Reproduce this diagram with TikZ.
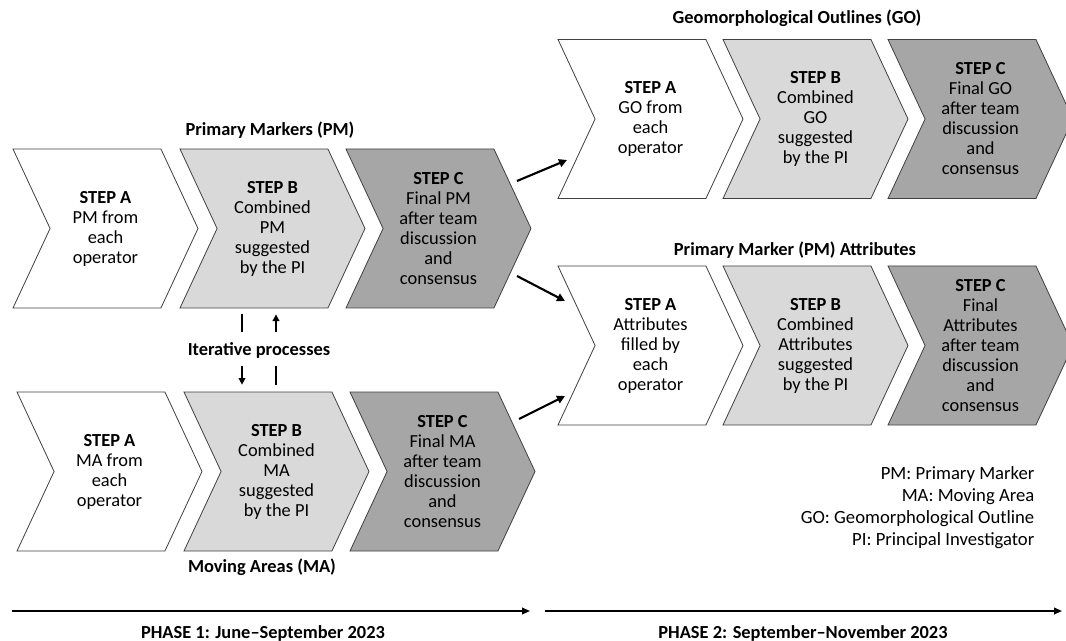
\documentclass[tikz,border=0pt]{standalone}
\usepackage{fontspec}
\setmainfont{Carlito}
\usetikzlibrary{arrows.meta, positioning, shapes.symbols, calc}

\begin{document}
\begin{tikzpicture}[
    x=0.75pt, y=-0.75pt,
    font=\fontsize{13.8}{15}\selectfont,
    chev/.style={signal, signal from=west, signal to=east,
      signal pointer angle=130, draw=black!75, line width=0.6pt,
      minimum width=138.75pt, minimum height=119.25pt,
      inner sep=0pt, align=center},
    stepA/.style={chev, fill=white},
    stepB/.style={chev, fill=black!15},
    stepC/.style={chev, fill=black!35},
    rowtitle/.style={font=\fontsize{13.8}{15}\selectfont\bfseries},
    flow/.style={line width=1.6pt, -{Triangle[length=6pt,width=6pt]}},
    iterline/.style={line width=1.4pt},
    iterarrow/.style={line width=1.4pt, -{Triangle[length=5pt,width=5pt]}},
    phase/.style={line width=1.3pt, -{Triangle[length=6pt,width=5pt]}}
  ]

  \useasboundingbox (0,0) rectangle (1066,641);

  % ==================== PHASE 1 ====================

  % Primary markers
  \node[rowtitle] (pmT) at (270,130) {Primary Markers (PM)};
  \node[stepA] (pmA) at (105.5,228.5) {\textbf{STEP A}\\PM from\\each\\operator};
  \node[stepB] (pmB) at (272.5,228.5) {\textbf{STEP B}\\Combined\\PM\\suggested\\by the PI};
  \node[stepC] (pmC) at (438.5,228.5) {\textbf{STEP C}\\Final PM\\after team\\discussion\\and\\consensus};

  % Moving areas
  \node[stepA] (maA) at (109.5,471.5) {\textbf{STEP A}\\MA from\\each\\operator};
  \node[stepB] (maB) at (276.5,471.5) {\textbf{STEP B}\\Combined\\MA\\suggested\\by the PI};
  \node[stepC] (maC) at (442.5,471.5) {\textbf{STEP C}\\Final MA\\after team\\discussion\\and\\consensus};
  \node[rowtitle] (maT) at (262,567) {Moving Areas (MA)};

  % Iteration between the two rows
  \node[rowtitle, inner sep=0pt, minimum height=22.5pt] (iter) at (259,350) {Iterative processes};
  \coordinate (lx) at (242,350);
  \coordinate (rx) at (276,350);
  \draw[iterline, shorten <=4.5pt, shorten >=2.3pt] (pmB.south -| lx) -- (iter.north -| lx);
  \draw[iterarrow, shorten <=0.8pt, shorten >=5.2pt] (iter.south -| lx) -- (maB.north -| lx);
  \draw[iterline, shorten <=5.2pt, shorten >=0.8pt] (maB.north -| rx) -- (iter.south -| rx);
  \draw[iterarrow, shorten <=2.3pt, shorten >=4.5pt] (iter.north -| rx) -- (pmB.south -| rx);

  % ==================== PHASE 2 ====================

  % Geomorphological outlines
  \node[rowtitle] (goT) at (797,18) {Geomorphological Outlines (GO)};
  \node[stepA] (goA) at (650.5,119) {\textbf{STEP A}\\GO from\\each\\operator};
  \node[stepB] (goB) at (815.5,119) {\textbf{STEP B}\\Combined\\GO\\suggested\\by the PI};
  \node[stepC] (goC) at (980.5,119) {\textbf{STEP C}\\Final GO\\after team\\discussion\\and\\consensus};

  % Primary marker attributes
  \node[rowtitle] (pmaT) at (795,250) {Primary Marker (PM) Attributes};
  \node[stepA] (pmaA) at (650.5,345.5) {\textbf{STEP A}\\Attributes\\filled by\\each\\operator};
  \node[stepB] (pmaB) at (815.5,345.5) {\textbf{STEP B}\\Combined\\Attributes\\suggested\\by the PI};
  \node[stepC] (pmaC) at (980.5,345.5) {\textbf{STEP C}\\Final\\Attributes\\after team\\discussion\\and\\consensus};

  % links from phase 1 to phase 2
  \draw[flow] ($(pmC)+(78.5,-47.5)$) -- ($(goA)+(-83.5,41)$);
  \draw[flow] ($(pmC)+(78.5,47.5)$) -- ($(pmaA)+(-85.5,-44.5)$);
  \draw[flow] ($(maC)+(76.5,-52.5)$) -- ($(pmaA)+(-85.5,50.5)$);

  % legend
  \node[align=right, anchor=east, font=\fontsize{14}{16.5}\selectfont] (legend) at (1039,508)
    {PM: Primary Marker\\MA: Moving Area\\GO: Geomorphological Outline\\PI: Principal Investigator};

  % ==================== TIMELINE ====================

  \coordinate (p1s) at (12,611);
  \coordinate (p1e) at (530,611);
  \coordinate (p2s) at (545,611);
  \coordinate (p2e) at (1062,611);
  \draw[phase] (p1s) -- (p1e);
  \draw[phase] (p2s) -- (p2e);
  \node[rowtitle] (ph1) at (263,633) {PHASE 1: June--September 2023};
  \node[rowtitle] (ph2) at (803,633) {PHASE 2: September--November 2023};

\end{tikzpicture}
\end{document}
